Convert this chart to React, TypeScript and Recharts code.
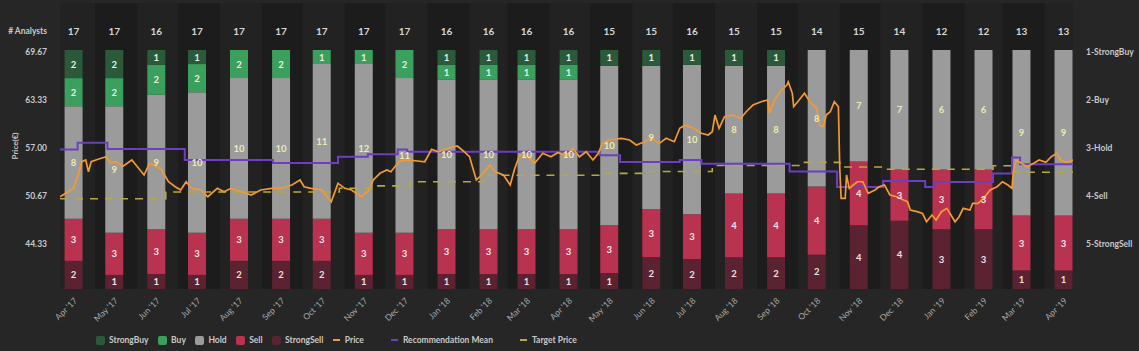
import React from 'react';
import { ComposedChart, Bar, Line, Scatter, XAxis, YAxis, ReferenceArea, LabelList } from 'recharts';

const FONT = 'Lato, "Liberation Sans", Arial, sans-serif';

// ---- categories (monthly) ----
const months = [
  "Apr '17", "May '17", "Jun '17", "Jul '17", "Aug '17", "Sep '17", "Oct '17", "Nov '17", "Dec '17",
  "Jan '18", "Feb '18", "Mar '18", "Apr '18", "May '18", "Jun '18", "Jul '18", "Aug '18", "Sep '18",
  "Oct '18", "Nov '18", "Dec '18", "Jan '19", "Feb '19", "Mar '19", "Apr '19",
];
const analysts = [17, 17, 16, 17, 17, 17, 17, 17, 17, 16, 16, 16, 16, 15, 15, 16, 15, 15, 14, 15, 14, 12, 12, 13, 13];
const strongBuy = [2, 2, 1, 1, 0, 0, 0, 0, 0, 1, 1, 1, 1, 1, 1, 1, 1, 1, 0, 0, 0, 0, 0, 0, 0];
const buy = [2, 2, 2, 2, 2, 2, 1, 1, 2, 1, 1, 1, 1, 0, 0, 0, 0, 0, 0, 0, 0, 0, 0, 0, 0];
const hold = [8, 9, 9, 10, 10, 10, 11, 12, 11, 10, 10, 10, 10, 10, 9, 10, 8, 8, 8, 7, 7, 6, 6, 9, 9];
const sell = [3, 3, 3, 3, 3, 3, 3, 3, 3, 3, 3, 3, 3, 3, 3, 3, 4, 4, 4, 4, 3, 3, 3, 3, 3];
const strongSell = [2, 1, 1, 1, 2, 2, 2, 1, 1, 1, 1, 1, 1, 1, 2, 2, 2, 2, 2, 4, 4, 3, 3, 1, 1];

// ---- daily series (days since 1 Apr 2017) ----
const priceDays = [
  4, 10, 14, 17, 20, 23, 25, 27, 32, 38, 41, 46, 50, 57, 60, 66, 70, 74, 79, 84, 89, 93, 97, 101, 108, 113,
  120, 125, 130, 138, 145, 152, 160, 167, 175, 181, 184, 189, 197, 204, 209, 214, 219, 226, 232, 235, 240,
  245, 248, 252, 254, 258, 266, 273, 278, 283, 290, 297, 302, 306, 311, 316, 321, 325, 331, 336, 339, 343,
  349, 354, 360, 366, 371, 373, 377, 382, 387, 392, 397, 401, 404, 409, 418, 424, 429, 435, 440, 446, 451,
  457, 461, 465, 471, 477, 482, 485, 487, 490, 494, 500, 506, 510, 515, 521, 526, 527, 531, 535, 540, 541,
  544, 545, 548, 553, 557, 562, 564, 567, 569, 572, 575, 578, 579, 580, 583, 584, 586, 589, 592, 596, 600,
  605, 608, 612, 616, 621, 626, 629, 631, 636, 640, 643, 647, 650, 654, 658, 661, 664, 667, 670, 675, 677,
  681, 685, 690, 695, 699, 703, 706, 707, 709, 713, 717, 722, 726, 731, 735, 739, 742, 746, 751,
];
const priceValues = [
  50.57, 51.23, 51.68, 53.21, 55.19, 55.42, 53.87, 55.19, 55.51, 55.85, 55.06, 55.19, 54.53, 55.42, 54.76,
  53.44, 54.98, 54.76, 54.1, 52.55, 51.89, 51.46, 52.55, 51.68, 51.46, 50.57, 51.68, 51.23, 51.68, 51.23,
  50.8, 51.46, 51.68, 51.68, 52.12, 52.78, 51.89, 51.68, 51.46, 49.91, 52.34, 51.68, 51.46, 50.57, 51.46,
  52.78, 53.66, 54.1, 53.87, 54.76, 55.19, 55.42, 55.32, 55.19, 56.83, 56.51, 56.96, 57.26, 56.51, 55.85,
  52.78, 53.66, 54.76, 53.87, 53.44, 52.12, 54.1, 56.08, 55.85, 54.98, 56.3, 55.85, 56.38, 56.3, 55.85,
  56.96, 55.85, 56.51, 55.42, 56.3, 57.62, 58.06, 58.28, 58.06, 57.4, 57.83, 58.28, 57.62, 58.28, 57.83,
  59.6, 60.03, 59.6, 58.94, 58.72, 59.15, 61.35, 59.6, 61.13, 61.35, 60.92, 61.79, 62.67, 63.11, 63.33,
  61.58, 63.33, 64.43, 65.31, 65.74, 64.22, 62.45, 63.11, 64.22, 63.11, 62.24, 60.03, 59.81, 61.35, 61.79,
  63.11, 62.45, 54.32, 50.36, 50.36, 53.44, 51.68, 52.12, 52.55, 52.55, 51.02, 51.46, 51.89, 52.12, 50.8,
  50.57, 50.14, 49.91, 48.82, 48.6, 48.38, 47.28, 48.16, 47.5, 48.6, 49.04, 48.16, 47.28, 47.94, 49.04,
  48.82, 49.7, 49.7, 50.36, 51.46, 51.89, 52.55, 52.12, 51.68, 53.87, 55.42, 54.98, 54.53, 54.98, 55.42,
  55.11, 55.85, 56.3, 55.42, 55.11, 55.42,
];
const recDays = [4, 17, 39, 96, 161, 209, 231, 253, 260, 402, 417, 461, 477, 542, 577, 611, 642, 649, 692, 706, 712, 751];
const recValues = [3.03, 2.89, 3.02, 3.25, 3.31, 3.18, 3.13, 3.03, 3.08, 3.15, 3.29, 3.25, 3.33, 3.49, 3.81, 3.69, 3.81, 3.71, 3.53, 3.2, 3.34, 3.34];
const targetDays = [4, 82, 210, 236, 262, 317, 402, 435, 485, 553, 579, 612, 692, 706, 751];
const targetValues = [50.3, 51.2, 51.7, 52.0, 52.55, 53.4, 53.65, 53.9, 54.7, 55.1, 54.5, 54.2, 54.65, 53.8, 53.8];

const priceTicks = [44.33, 50.67, 57.0, 63.33, 69.67];
const recTicks = [1, 2, 3, 4, 5];
const recTickLabels = ['1-StrongBuy', '2-Buy', '3-Hold', '4-Sell', '5-StrongSell'];

// ---- derived tables ----
const BASE = Date.UTC(2017, 3, 1);
const DAY = 86400000;
const monthStart = months.map((_, i) => Math.round((Date.UTC(2017, 3 + i, 1) - BASE) / DAY));
const monthEnd = months.map((_, i) => Math.round((Date.UTC(2017, 4 + i, 1) - BASE) / DAY));
const barDays = monthStart.map((d) => d + 14);
const X_DOMAIN: [number, number] = [4, 751];
const barData = months.map((m, i) => {
  const n = analysts[i];
  return {
    day: barDays[i],
    month: m,
    total: n,
    strongBuy: strongBuy[i],
    buy: buy[i],
    hold: hold[i],
    sell: sell[i],
    strongSell: strongSell[i],
    strongBuyShare: strongBuy[i] / n,
    buyShare: buy[i] / n,
    holdShare: hold[i] / n,
    sellShare: sell[i] / n,
    strongSellShare: strongSell[i] / n,
    top: (strongBuy[i] + buy[i] + hold[i] + sell[i] + strongSell[i]) / n,
  };
});
const priceData = priceDays.map((d, i) => ({ day: d, price: priceValues[i] }));
const recData = recDays.map((d, i) => ({ day: d, rec: recValues[i] }));
const targetData = targetDays.map((d, i) => ({ day: d, target: targetValues[i] }));
const tickLabel = (d: number) => {
  const i = barDays.indexOf(d);
  return i >= 0 ? months[i] : '';
};

const C = {
  page: '#262626',
  panel: '#1c1c1c',
  stripe: '#222222',
  strongBuy: '#2b5a3b',
  buy: '#3b9f5d',
  hold: '#9b9b9b',
  sell: '#b9324f',
  strongSell: '#5b2231',
  price: '#f39a31',
  rec: '#6c3fc2',
  target: '#b8a93c',
  text: '#c9c9c9',
};

const segLabel = (color: string) => (props: any) => {
  const { x, y, width, height, value } = props;
  if (!value) return null;
  return (
    <text x={x + width / 2} y={y + height / 2} dy={3.5} textAnchor="middle" fill={color}
      fontSize={9.5} fontWeight="bold" fontFamily={FONT}>{value}</text>
  );
};

const CountShape = (props: any) => {
  const { cx, cy, payload } = props;
  if (cx == null || cy == null) return null;
  return (
    <text x={cx} y={cy - 15} textAnchor="middle" fill="#d6d6d6"
      fontSize={10} fontWeight="bold" fontFamily={FONT}>{payload.total}</text>
  );
};

const LeftTick = (props: any) => {
  const { x, y, payload } = props;
  return (
    <text x={x} y={y} dy={3} textAnchor="end" fill={C.text} fontSize={8.5} fontWeight="bold" fontFamily={FONT}>
      {Number(payload.value).toFixed(2)}
    </text>
  );
};

const RightTick = (props: any) => {
  const { x, y, payload } = props;
  return (
    <text x={x} y={y} dy={3} textAnchor="start" fill={C.text} fontSize={8.5} fontWeight="bold" fontFamily={FONT}>
      {recTickLabels[payload.value - 1] || ''}
    </text>
  );
};

const legendItems = [
  { name: 'StrongBuy', color: C.strongBuy, kind: 'box' },
  { name: 'Buy', color: C.buy, kind: 'box' },
  { name: 'Hold', color: C.hold, kind: 'box' },
  { name: 'Sell', color: C.sell, kind: 'box' },
  { name: 'StrongSell', color: C.strongSell, kind: 'box' },
  { name: 'Price', color: C.price, kind: 'line' },
  { name: 'Recommendation Mean', color: C.rec, kind: 'line' },
  { name: 'Target Price', color: C.target, kind: 'line' },
];

export default function App() {
  return (
    <div style={{ position: 'absolute', left: 0, top: 0, width: 1139, height: 351, background: C.page, overflow: 'hidden', fontFamily: FONT }}>
      <ComposedChart width={1139} height={351} data={barData}
        margin={{ top: 3, right: 0, bottom: 0, left: 0 }}>
        <XAxis xAxisId="bx" type="number" dataKey="day" domain={X_DOMAIN} allowDataOverflow hide height={0} />
        <XAxis xAxisId="x" type="number" dataKey="day" domain={X_DOMAIN} allowDataOverflow
          ticks={barDays} interval={0} tickFormatter={tickLabel} angle={-45} textAnchor="end"
          height={62} axisLine={false} tickLine={false} tickMargin={2}
          tick={{ fill: '#a9a9a9', fontSize: 8.5, fontFamily: FONT }} />
        <YAxis yAxisId="bar" hide domain={[0, 1.1966]} allowDataOverflow width={0} />
        <YAxis yAxisId="price" orientation="left" width={60} domain={[38.4, 76.13]} allowDataOverflow
          ticks={priceTicks} interval={0} axisLine={false} tickLine={false} tickSize={0} tickMargin={13}
          tick={LeftTick} />
        <YAxis yAxisId="rec" orientation="right" width={66} reversed domain={[-0.021, 5.9375]} allowDataOverflow
          ticks={recTicks} interval={0} axisLine={false} tickLine={false} tickSize={0} tickMargin={13}
          tick={RightTick} />

        <ReferenceArea xAxisId="x" yAxisId="price" x1={X_DOMAIN[0]} x2={X_DOMAIN[1]} fill={C.panel} fillOpacity={1}
          stroke="none" ifOverflow="hidden" />
        {months.map((m, i) => (i % 2 === 0 ? (
          <ReferenceArea key={m} xAxisId="x" yAxisId="price" x1={monthStart[i]} x2={monthEnd[i]} fill={C.stripe}
            fillOpacity={1} stroke="none" ifOverflow="hidden" />
        ) : null))}

        <Bar xAxisId="bx" yAxisId="bar" dataKey="strongSellShare" stackId="a" fill={C.strongSell} barSize={18} isAnimationActive={false}>
          <LabelList dataKey="strongSell" content={segLabel('#e9e3e3')} />
        </Bar>
        <Bar xAxisId="bx" yAxisId="bar" dataKey="sellShare" stackId="a" fill={C.sell} barSize={18} isAnimationActive={false}>
          <LabelList dataKey="sell" content={segLabel('#f1e6e8')} />
        </Bar>
        <Bar xAxisId="bx" yAxisId="bar" dataKey="holdShare" stackId="a" fill={C.hold} barSize={18} isAnimationActive={false}>
          <LabelList dataKey="hold" content={segLabel('#ecebb0')} />
        </Bar>
        <Bar xAxisId="bx" yAxisId="bar" dataKey="buyShare" stackId="a" fill={C.buy} barSize={18} isAnimationActive={false}>
          <LabelList dataKey="buy" content={segLabel('#e6f3e6')} />
        </Bar>
        <Bar xAxisId="bx" yAxisId="bar" dataKey="strongBuyShare" stackId="a" fill={C.strongBuy} barSize={18} isAnimationActive={false}>
          <LabelList dataKey="strongBuy" content={segLabel('#e6f0e6')} />
        </Bar>
        <Scatter xAxisId="bx" yAxisId="bar" dataKey="top" shape={CountShape} isAnimationActive={false} />

        <Line xAxisId="x" yAxisId="price" data={targetData} dataKey="target" type="stepAfter" stroke={C.target}
          strokeWidth={1.6} strokeDasharray="8 7" dot={false} activeDot={false} isAnimationActive={false} />
        <Line xAxisId="x" yAxisId="rec" data={recData} dataKey="rec" type="stepAfter" stroke={C.rec}
          strokeWidth={2} dot={false} activeDot={false} isAnimationActive={false} />
        <Line xAxisId="x" yAxisId="price" data={priceData} dataKey="price" type="linear" stroke={C.price}
          strokeWidth={1.7} dot={false} activeDot={false} isAnimationActive={false} />
      </ComposedChart>

      <div style={{ position: 'absolute', right: 1139 - 47, top: 26, color: C.text, fontSize: 8.5, fontWeight: 'bold', whiteSpace: 'nowrap' }}>
        # Analysts
      </div>
      <div style={{ position: 'absolute', left: 15, top: 146, transform: 'translate(-50%, -50%) rotate(-90deg)', color: C.text, fontSize: 8, fontWeight: 'bold', whiteSpace: 'nowrap' }}>
        Price(€)
      </div>

      <div style={{ position: 'absolute', left: 96, top: 335, display: 'flex', alignItems: 'center', color: C.text, fontSize: 8.5, fontWeight: 'bold', whiteSpace: 'nowrap' }}>
        {legendItems.map((it) => (
          <div key={it.name} style={{ display: 'flex', alignItems: 'center', marginRight: it.kind === 'box' ? 9.5 : 27 }}>
            {it.kind === 'box' ? (
              <span style={{ display: 'inline-block', width: 9, height: 9, borderRadius: 2, background: it.color, marginRight: 4 }} />
            ) : (
              <span style={{ display: 'inline-block', width: 7, height: 2, background: it.color, marginRight: 5 }} />
            )}
            <span>{it.name}</span>
          </div>
        ))}
      </div>
    </div>
  );
}
